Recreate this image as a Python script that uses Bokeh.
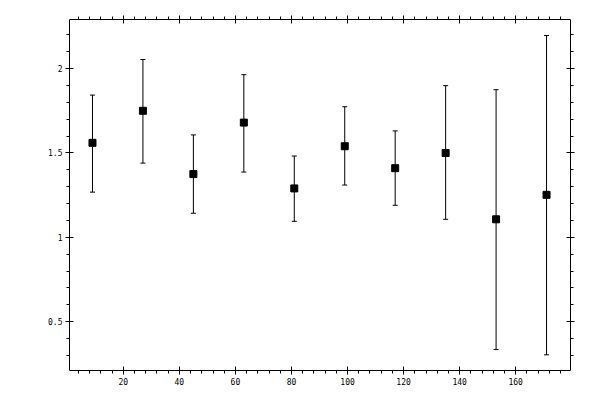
from bokeh.plotting import figure
from bokeh.models import (ColumnDataSource, Range1d, LinearAxis, SingleIntervalTicker,
                          Whisker, TeeHead)
from bokeh.embed import file_html
from bokeh.resources import INLINE

# data
x = [9, 27, 45, 63, 81, 99, 117, 135, 153, 171]
y = [1.56, 1.75, 1.375, 1.68, 1.29, 1.54, 1.41, 1.50, 1.107, 1.252]
upper = [1.843, 2.054, 1.607, 1.964, 1.482, 1.774, 1.631, 1.899, 1.875, 2.196]
lower = [1.268, 1.440, 1.143, 1.387, 1.095, 1.310, 1.190, 1.107, 0.335, 0.304]

y_ticks = [0.5, 1, 1.5, 2]
y_tick_labels = ["0.5", "1", "1.5", "2"]

src = ColumnDataSource(data=dict(x=x, y=y, upper=upper, lower=lower))

p = figure(width=596, height=396,
           x_range=Range1d(0.8, 179.55), y_range=Range1d(0.211, 2.291),
           output_backend="svg", toolbar_location=None, tools="",
           x_axis_location=None, y_axis_location=None,
           min_border_left=69, min_border_right=26,
           min_border_top=19, min_border_bottom=26)
p.outline_line_color = None
p.xgrid.grid_line_color = None
p.ygrid.grid_line_color = None
p.background_fill_color = "white"


def make_axis(ticker, labels=True):
    ax = LinearAxis(ticker=ticker)
    ax.axis_line_color = "black"
    ax.major_tick_line_color = "black"
    ax.minor_tick_line_color = "black"
    ax.major_tick_in = 4
    ax.major_tick_out = 4
    ax.minor_tick_in = 0
    ax.minor_tick_out = 3
    if labels:
        ax.major_label_text_font = "DejaVu Sans Mono"
        ax.major_label_text_font_size = "8px"
        ax.major_label_text_color = "black"
        ax.major_label_standoff = 3
    else:
        # ticks only, no labels on the top and right sides
        ax.major_label_text_color = None
        ax.major_label_text_font_size = "0px"
        ax.major_label_standoff = 0
    return ax


xb = make_axis(SingleIntervalTicker(interval=20, num_minor_ticks=5))
xt = make_axis(SingleIntervalTicker(interval=20, num_minor_ticks=5), labels=False)
yl = make_axis(SingleIntervalTicker(interval=0.5, num_minor_ticks=5))
yr = make_axis(SingleIntervalTicker(interval=0.5, num_minor_ticks=5), labels=False)
yl.major_label_overrides = dict(zip(y_ticks, y_tick_labels))

p.add_layout(xb, "below")
p.add_layout(xt, "above")
p.add_layout(yl, "left")
p.add_layout(yr, "right")

w = Whisker(source=src, base="x", upper="upper", lower="lower",
            line_color="black", line_width=1,
            upper_head=TeeHead(size=5, line_color="black", line_width=1),
            lower_head=TeeHead(size=5, line_color="black", line_width=1))
p.add_layout(w)

p.scatter("x", "y", source=src, marker="square", size=7,
          fill_color="black", line_color="black")

open("out.html", "w").write(file_html(p, INLINE))
